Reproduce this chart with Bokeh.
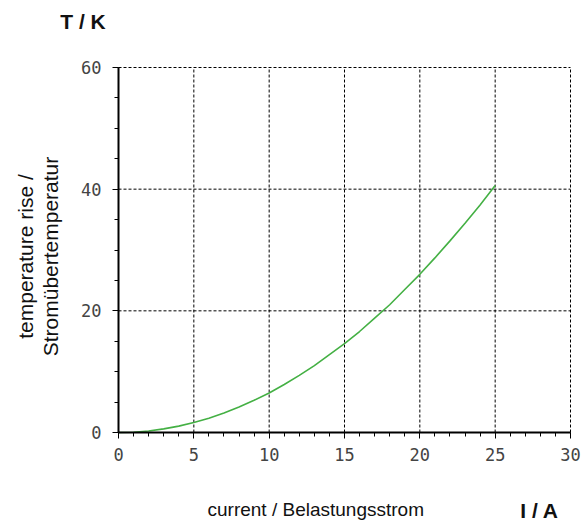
from math import pi
from bokeh.plotting import figure
from bokeh.models import Range1d, FixedTicker, Label
from bokeh.embed import file_html
from bokeh.resources import INLINE

# Data
current_A = [0, 1, 2, 3, 4, 5, 6, 7, 8, 9, 10, 11, 12, 13, 14, 15, 16, 17, 18, 19, 20, 21, 22, 23, 24, 25]
temp_rise_K = [0, 0.05, 0.25, 0.6, 1.05, 1.65, 2.35, 3.2, 4.2, 5.3, 6.5, 7.9, 9.4, 11.0, 12.8, 14.6,
               16.6, 18.8, 21.0, 23.5, 26.0, 28.7, 31.5, 34.4, 37.4, 40.6]
x_ticks = [0, 5, 10, 15, 20, 25, 30]
y_ticks = [0, 20, 40, 60]
x_minor = list(range(0, 31))
y_minor = list(range(0, 61, 5))
x_grid = [5, 10, 15, 20, 25, 30]
y_grid = [20, 40, 60]
x_lim = (0, 30)
y_lim = (0, 60)

# frame covers the whole canvas; plotting area 0..30 x 0..60 placed via range padding
PX_X = 452 / 30.0
PX_Y = 365 / 60.0
p = figure(width=583, height=521, output_backend="svg", toolbar_location=None,
           x_range=Range1d(-118 / PX_X, 30 + 13 / PX_X),
           y_range=Range1d(-89 / PX_Y, 60 + 67 / PX_Y),
           min_border=0)
p.outline_line_color = None
p.background_fill_color = "white"
p.border_fill_color = "white"
p.grid.visible = False

# dashed grid inside the plotting area
p.segment(x0=x_grid, y0=[y_lim[0]] * len(x_grid), x1=x_grid, y1=[y_lim[1]] * len(x_grid),
          line_color="black", line_dash="3 2", line_width=1)
p.segment(x0=[x_lim[0]] * len(y_grid), y0=y_grid, x1=[x_lim[1]] * len(y_grid), y1=y_grid,
          line_color="black", line_dash="3 2", line_width=1)

p.line(current_A, temp_rise_K, line_color="#44b044", line_width=1.6)

p.xaxis.fixed_location = 0
p.yaxis.fixed_location = 0
p.xaxis.bounds = x_lim
p.yaxis.bounds = y_lim
p.xaxis.ticker = FixedTicker(ticks=x_ticks, minor_ticks=x_minor)
p.yaxis.ticker = FixedTicker(ticks=y_ticks, minor_ticks=y_minor)
for ax in (p.xaxis[0], p.yaxis[0]):
    ax.axis_line_color = "black"
    ax.axis_line_width = 2
    ax.major_tick_line_color = "black"
    ax.minor_tick_line_color = "black"
    ax.major_tick_in = 0
    ax.minor_tick_in = 0
    ax.major_tick_out = 6
    ax.minor_tick_out = 4
    ax.major_label_text_font = "DejaVu Sans Mono"
    ax.major_label_text_font_size = "17px"
    ax.major_label_text_color = "#444444"
p.xaxis.major_label_standoff = 9
p.yaxis.major_label_standoff = 11

common = dict(text_font="Liberation Sans", text_color="#111111")
p.add_layout(Label(x=-2.356, y=67.56, text="T / K", text_font_size="21px", text_font_style="bold",
                   text_align="center", text_baseline="middle", **common))
p.add_layout(Label(x=27.94, y=-12.74, text="I / A", text_font_size="21px", text_font_style="bold",
                   text_align="center", text_baseline="middle", **common))
p.add_layout(Label(x=5.907, y=-12.66, text="current / Belastungsstrom", text_font_size="19px",
                   text_align="left", text_baseline="alphabetic", **common))
p.add_layout(Label(x=-6.173, y=28.93, text="temperature rise /", text_font_size="21px", angle=pi / 2,
                   text_align="center", text_baseline="alphabetic", **common))
p.add_layout(Label(x=-4.513, y=28.93, text="Stromübertemperatur", text_font_size="21px", angle=pi / 2,
                   text_align="center", text_baseline="alphabetic", **common))

open("out.html", "w").write(file_html(p, INLINE))
